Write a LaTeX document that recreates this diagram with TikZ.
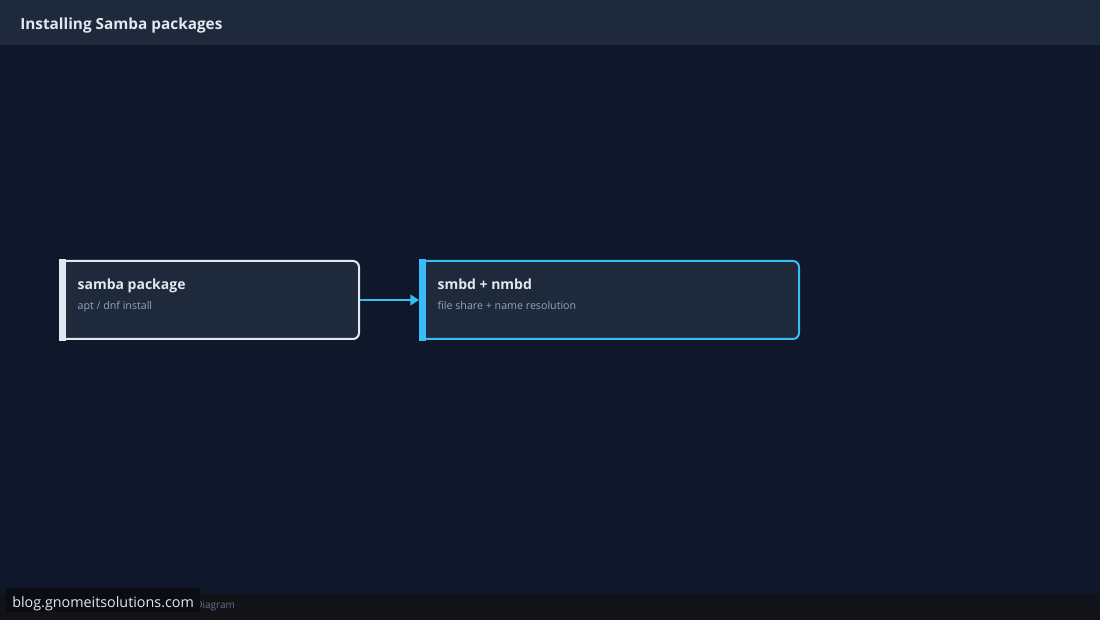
\documentclass[tikz,border=0pt]{standalone}
\usepackage{fontspec}
\setmainfont{Open Sans}
\usepackage{tikz}
\usetikzlibrary{positioning,arrows.meta}

\definecolor{bgdark}{HTML}{0F172A}
\definecolor{panel}{HTML}{1E293B}
\definecolor{lightline}{HTML}{E2E8F0}
\definecolor{skyline}{HTML}{38BDF8}
\definecolor{subtext}{HTML}{94A3B8}
\definecolor{footband}{HTML}{111318}
\definecolor{markbox}{HTML}{0B0D12}
\definecolor{foottext}{HTML}{6B7280}

\begin{document}
\begin{tikzpicture}[x=0.75pt,y=0.75pt,node distance=300pt,on grid,
	pkgbox/.style={draw=lightline,line width=1.5pt,rounded corners=4.5pt,fill=panel,
		minimum width=223.5pt,minimum height=58.5pt,inner sep=0pt},
	boxtitle/.style={anchor=base west,text=lightline,font=\bfseries\fontsize{10.5}{12}\selectfont,inner sep=0pt},
	boxsub/.style={anchor=base west,text=subtext,font=\fontsize{8}{9}\selectfont,inner sep=0pt},
	flow/.style={draw=skyline,line width=1.5pt,-{Triangle[length=6.5pt,width=8pt]}}]
		\useasboundingbox (0,0) rectangle (1100,620);
		\fill[bgdark] (0,0) rectangle (1100,620);
		\fill[panel] (0,575) rectangle (1100,620);
		\node[anchor=base west,text=lightline,font=\bfseries\fontsize{11.5}{14}\selectfont,inner sep=0pt] (Heading) at (20,590) {Installing Samba packages};
		
		\node[pkgbox] (SambaPackage) at (210,320) {};
		\node[pkgbox,draw=skyline,minimum width=283.5pt] (Daemons) [right=of SambaPackage] {};
		\fill[lightline] ([xshift=-0.75pt,yshift=-0.75pt]SambaPackage.south west) rectangle ([xshift=4.5pt,yshift=0.75pt]SambaPackage.north west);
		\fill[skyline] ([xshift=-0.75pt,yshift=-0.75pt]Daemons.south west) rectangle ([xshift=4.5pt,yshift=0.75pt]Daemons.north west);
		
		\node[boxtitle] (SambaTitle) at ([xshift=13pt,yshift=7.5pt]SambaPackage.west) {samba package};
		\node[boxsub] (SambaSub) at ([xshift=13pt,yshift=-7.5pt]SambaPackage.west) {apt / dnf install};
		\node[boxtitle] (DaemonsTitle) at ([xshift=13pt,yshift=7.5pt]Daemons.west) {smbd + nmbd};
		\node[boxsub] (DaemonsSub) at ([xshift=13pt,yshift=-7.5pt]Daemons.west) {file share + name resolution};
		
		\path[flow] (SambaPackage.east) -- ([xshift=-0.75pt]Daemons.west);
		
		% footer and watermark
		\fill[footband] (0,0) rectangle (1100,26);
		\node[anchor=base west,text=foottext,font=\fontsize{7.5}{9}\selectfont,inner sep=0pt] (FootNote) at (195,11) {Diagram};
		\fill[markbox] (6,8) rectangle (200,32);
		\node[anchor=base west,text=lightline,font=\fontsize{10.75}{13}\selectfont,inner sep=0pt] (Watermark) at (12,12) {blog.gnomeitsolutions.com};
\end{tikzpicture}
\end{document}
